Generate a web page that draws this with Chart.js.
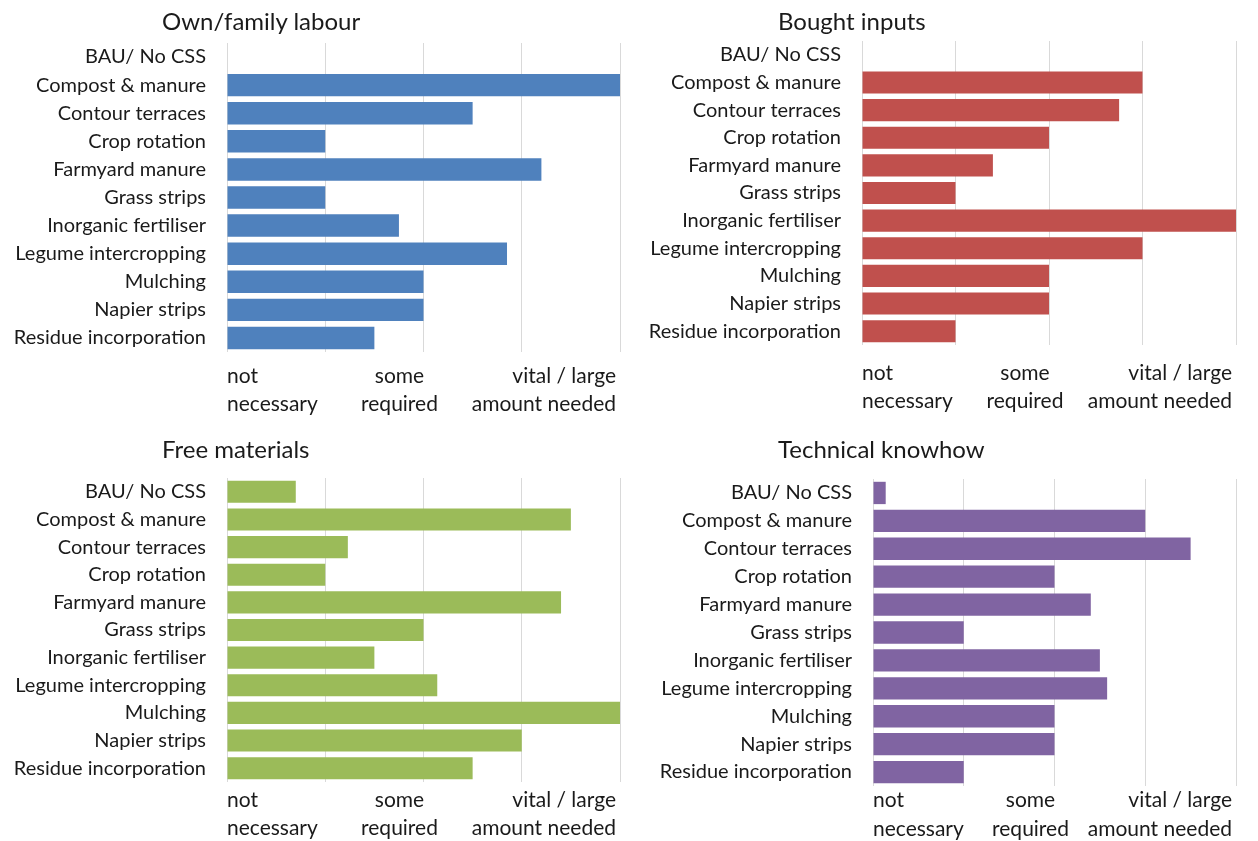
<!DOCTYPE html>
<html lang="en">
<head>
  <meta charset="UTF-8">
  <title>Resources needed per soil practice</title>
  <script src="https://cdn.jsdelivr.net/npm/chart.js"></script>
  <style>
    html, body { margin: 0; padding: 0; background: #fff; }
    #wrap { position: relative; width: 1258px; height: 841px; overflow: hidden; font-family: Lato, "Noto Sans", sans-serif; }
    .panel { position: absolute; }
    .panel canvas { position: absolute; left: 0; top: 0; }
    .title { position: absolute; font-size: 24px; color: #1a1a1a; white-space: nowrap; line-height: 1; }
  </style>
</head>
<body>
<div id="wrap"></div>
<script>
  // data
  const categories = ['BAU/ No CSS', 'Compost & manure', 'Contour terraces', 'Crop rotation',
    'Farmyard manure', 'Grass strips', 'Inorganic fertiliser', 'Legume intercropping',
    'Mulching', 'Napier strips', 'Residue incorporation'];
  const labourValues  = [0, 4, 2.5, 1, 3.2, 1, 1.75, 2.85, 2, 2, 1.5];
  const boughtValues  = [0, 3, 2.75, 2, 1.4, 1, 4, 3, 2, 2, 1];
  const freeValues    = [0.7, 3.5, 1.23, 1, 3.4, 2, 1.5, 2.14, 4, 3, 2.5];
  const knowhowValues = [0.14, 3, 3.5, 2, 2.4, 1, 2.5, 2.58, 2, 2, 1];
  const tickValues = [0, 2, 4];
  const tickLabels = [['not', 'necessary'], ['some', 'required'], ['vital / large', 'amount needed']];

  // layout of the four panels (pixels)
  const panels = [
    { title: 'Own/family labour', values: labourValues, color: '#4F81BD',
      left: 0, top: 0, w: 630, h: 420, plotL: 227, plotR: 620, plotT: 43, plotB: 352,
      tickY: [376, 404], titleX: 162, titleY: 9 },
    { title: 'Bought inputs', values: boughtValues, color: '#C0504D',
      left: 630, top: 0, w: 628, h: 420, plotL: 232, plotR: 606, plotT: 41, plotB: 345,
      tickY: [373, 401], titleX: 148, titleY: 9 },
    { title: 'Free materials', values: freeValues, color: '#9BBB59',
      left: 0, top: 420, w: 630, h: 421, plotL: 227, plotR: 620, plotT: 58, plotB: 362,
      tickY: [380, 408], titleX: 162, titleY: 17 },
    { title: 'Technical knowhow', values: knowhowValues, color: '#8064A2',
      left: 630, top: 420, w: 628, h: 421, plotL: 243, plotR: 606, plotT: 59, plotB: 366,
      tickY: [380, 409], titleX: 148, titleY: 17 }
  ];

  const FONT = 'Lato, "Noto Sans", sans-serif';
  const TEXT = '#1a1a1a';

  // x-axis labels drawn under the grid lines, like the spreadsheet does it
  const axisLabels = {
    id: 'axisLabels',
    afterDraw(chart, args, opts) {
      const x = chart.scales.x;
      const ctx = chart.ctx;
      ctx.save();
      ctx.font = '21px ' + FONT;
      ctx.fillStyle = TEXT;
      ctx.textBaseline = 'middle';
      tickValues.forEach((v, i) => {
        let px = x.getPixelForValue(v);
        if (i === 0) { ctx.textAlign = 'left'; }
        else if (i === tickValues.length - 1) { ctx.textAlign = 'right'; px -= 4; }
        else { ctx.textAlign = 'center'; px -= 24; }
        tickLabels[i].forEach((line, j) => ctx.fillText(line, px, opts.ys[j]));
      });
      ctx.restore();
    }
  };

  const wrap = document.getElementById('wrap');
  panels.forEach(p => {
    const div = document.createElement('div');
    div.className = 'panel';
    div.style.cssText = `left:${p.left}px;top:${p.top}px;width:${p.w}px;height:${p.h}px;`;
    const cv = document.createElement('canvas');
    cv.width = p.w; cv.height = p.h;
    cv.style.width = p.w + 'px'; cv.style.height = p.h + 'px';
    div.appendChild(cv);
    const t = document.createElement('div');
    t.className = 'title';
    t.style.left = p.titleX + 'px';
    t.style.top = p.titleY + 'px';
    t.textContent = p.title;
    div.appendChild(t);
    wrap.appendChild(div);

    new Chart(cv, {
      type: 'bar',
      data: {
        labels: categories,
        datasets: [{ data: p.values, backgroundColor: p.color, borderWidth: 0,
          barPercentage: 0.8, categoryPercentage: 1 }]
      },
      options: {
        indexAxis: 'y',
        responsive: false,
        animation: false,
        layout: { padding: { left: 0, top: p.plotT, right: p.w - p.plotR, bottom: p.h - p.plotB } },
        plugins: {
          legend: { display: false },
          tooltip: { enabled: false },
          axisLabels: { ys: p.tickY }
        },
        scales: {
          x: {
            min: 0, max: 4,
            ticks: { display: false, stepSize: 1 },
            grid: { color: '#d9d9d9', lineWidth: 1, drawTicks: false },
            border: { display: false },
            afterFit: s => { s.height = 0; }
          },
          y: {
            grid: { display: false, drawTicks: false },
            border: { display: false },
            ticks: { color: TEXT, font: { family: FONT, size: 20 }, padding: 21, autoSkip: false },
            afterFit: s => { s.width = p.plotL; }
          }
        }
      },
      plugins: [axisLabels]
    });
  });
</script>
</body>
</html>
